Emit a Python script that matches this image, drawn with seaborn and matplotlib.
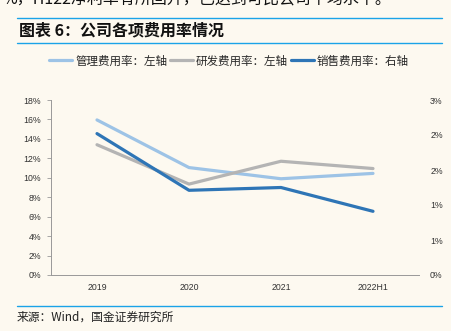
import matplotlib
matplotlib.use("Agg")
import matplotlib.pyplot as plt
import seaborn as sns
import pandas as pd
from matplotlib.ticker import FuncFormatter, FixedLocator
from matplotlib.lines import Line2D

categories = ["2019", "2020", "2021", "2022H1"]
admin_rate = [15.95, 11.05, 9.9, 10.45]     # 管理费用率 (left axis, %)
rd_rate = [13.4, 9.35, 11.7, 10.95]          # 研发费用率 (left axis, %)
sales_rate = [2.02, 1.21, 1.25, 0.91]        # 销售费用率 (right axis, %)
left_ticks = [0, 2, 4, 6, 8, 10, 12, 14, 16, 18]
right_ticks = [0, 0.5, 1.0, 1.5, 2.0, 2.5]
right_labels = ["0%", "1%", "1%", "2%", "2%", "3%"]
names = ["管理费用率：左轴", "研发费用率：左轴", "销售费用率：右轴"]

sns.set_theme(style="white")
plt.rcParams['font.family'] = ['Liberation Sans', 'Noto Sans CJK SC', 'DejaVu Sans']
cjk = ['Noto Sans CJK SC', 'DejaVu Sans']

bg = "#FDF9F0"
c_admin = "#9DC3E6"
c_rd = "#B4B4B4"
c_sales = "#2E75B6"
sep = "#1AA3E8"

fig = plt.figure(figsize=(4.51, 3.31), dpi=100, facecolor=bg)
ax = fig.add_axes([51/451, 1-275/331, (419-51)/451, 175/331])
ax.set_facecolor(bg)

df = pd.DataFrame({"cat": categories, "x": range(len(categories)),
                   "admin": admin_rate, "rd": rd_rate, "sales": sales_rate})

sns.lineplot(data=df, x="x", y="admin", ax=ax, color=c_admin, linewidth=2.3)
sns.lineplot(data=df, x="x", y="rd", ax=ax, color=c_rd, linewidth=2.3)
ax.set_xlim(-0.5, len(categories) - 0.5)
ax.set_ylim(0, 18)
ax.set_yticks(left_ticks)
ax.yaxis.set_major_formatter(FuncFormatter(lambda v, p: f"{v:.0f}%"))
ax.set_xticks(range(len(categories)))
ax.set_xticklabels(categories)
ax.xaxis.set_minor_locator(FixedLocator([i - 0.5 for i in range(len(categories) + 1)]))
ax.tick_params(axis='x', which='major', length=0, labelsize=6.3, pad=6, colors="#333333")
ax.tick_params(axis='x', which='minor', length=3, width=0.6, color="#999999", direction='out')
ax.tick_params(axis='y', length=3, width=0.6, color="#999999", labelsize=6.3, pad=4, labelcolor="#333333", direction='out', left=True)
ax.set_xlabel("")
ax.set_ylabel("")
for s in ["top", "right"]:
    ax.spines[s].set_visible(False)
for s in ["left", "bottom"]:
    ax.spines[s].set_color("#999999")
    ax.spines[s].set_linewidth(0.7)

ax2 = ax.twinx()
sns.lineplot(data=df, x="x", y="sales", ax=ax2, color=c_sales, linewidth=2.3)
ax2.set_ylim(0, 2.5)
ax2.set_yticks(right_ticks)
ax2.set_yticklabels(right_labels)
ax2.tick_params(axis='y', length=0, labelsize=6.3, pad=8, labelcolor="#333333")
ax2.set_ylabel("")
for s in ["top", "right", "left", "bottom"]:
    ax2.spines[s].set_visible(False)
ax2.set_xlim(-0.5, len(categories) - 0.5)

handles = [Line2D([], [], color=c, linewidth=2.3) for c in (c_admin, c_rd, c_sales)]
fig.legend(handles, names, loc="center", bbox_to_anchor=(229/451, 1-61/331), ncol=3,
           frameon=False, prop={'family': cjk, 'size': 8.3}, handlelength=2.0,
           handletextpad=0.25, columnspacing=0.25, borderpad=0.1)

# separators
for yy in (18, 43, 306):
    fig.add_artist(Line2D([17/451, 442/451], [1-yy/331, 1-yy/331], color=sep, linewidth=1.0))

fig.text(19/451, 1-30/331, "图表 6：公司各项费用率情况", family=cjk, fontsize=11.5,
         fontweight="bold", fontstyle="italic", va="center", ha="left", color="#111111")
fig.text(17/451, 1-317/331, "来源：Wind，国金证券研究所", family=cjk, fontsize=8.5,
         va="center", ha="left", color="#222222")
fig.text(2/451, 1-0/331, "%，H122净利率有所回升，已达到可比公司平均水平。", family=cjk,
         fontsize=11.5, va="center", ha="left", color="#111111")

fig.savefig("out.png", dpi=100, facecolor=bg)
